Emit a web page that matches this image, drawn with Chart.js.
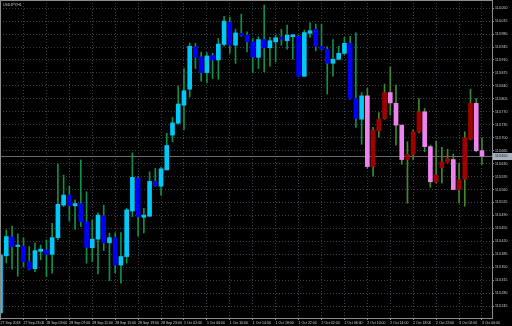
<!DOCTYPE html>
<html>
<head>
<meta charset="utf-8">
<title>USDJPY,H1</title>
<script src="https://cdn.jsdelivr.net/npm/chart.js@4.4.1/dist/chart.umd.min.js"></script>
<style>
  html, body { margin: 0; padding: 0; background: #000; }
  canvas { display: block; }
</style>
</head>
<body>
<canvas id="chart" width="512" height="326"></canvas>
<script>
// H1 bars, oldest first
const opens = [
  113.227, 113.381, 113.432, 113.406, 113.407, 113.365, 113.346, 113.393, 113.397, 113.385,
  113.430, 113.518, 113.545, 113.516, 113.522, 113.473, 113.403, 113.426, 113.489, 113.416,
  113.430, 113.356, 113.379, 113.502, 113.591, 113.485, 113.488, 113.582, 113.569, 113.613,
  113.707, 113.739, 113.788, 113.831, 113.946, 113.918, 113.876, 113.922, 113.910, 113.952,
  114.012, 113.950, 113.982, 113.977, 113.959, 113.917, 113.965, 113.943, 113.959, 113.971,
  113.962, 113.973, 113.974, 113.866, 113.982, 113.993, 113.947, 113.939, 113.901, 113.912,
  113.928, 113.955, 113.806, 113.750, 113.813, 113.622, 113.719, 113.752, 113.822, 113.793,
  113.734, 113.641, 113.655, 113.716, 113.770, 113.676, 113.581, 113.619, 113.633, 113.641,
  113.560, 113.588, 113.696, 113.793, 113.665
];
const highs = [
  113.386, 113.451, 113.461, 113.440, 113.429, 113.406, 113.416, 113.410, 113.424, 113.469,
  113.629, 113.599, 113.570, 113.532, 113.640, 113.554, 113.478, 113.497, 113.518, 113.442,
  113.443, 113.444, 113.509, 113.659, 113.595, 113.509, 113.608, 113.617, 113.621, 113.712,
  113.755, 113.840, 113.887, 113.956, 113.955, 113.931, 113.930, 113.928, 113.968, 114.028,
  114.026, 113.993, 114.034, 113.986, 113.968, 113.973, 114.058, 113.971, 113.977, 113.993,
  114.004, 113.978, 113.977, 113.991, 114.010, 114.007, 114.007, 113.946, 113.965, 113.947,
  113.971, 113.974, 113.983, 113.822, 113.833, 113.728, 113.768, 113.845, 113.891, 113.842,
  113.734, 113.689, 113.721, 113.806, 113.779, 113.680, 113.691, 113.674, 113.669, 113.656,
  113.631, 113.716, 113.831, 113.806, 113.700
];
const lows = [
  113.224, 113.362, 113.345, 113.326, 113.352, 113.343, 113.338, 113.370, 113.325, 113.334,
  113.424, 113.514, 113.475, 113.452, 113.460, 113.361, 113.365, 113.332, 113.395, 113.314,
  113.335, 113.307, 113.361, 113.487, 113.434, 113.443, 113.487, 113.569, 113.545, 113.613,
  113.689, 113.737, 113.721, 113.810, 113.887, 113.853, 113.848, 113.860, 113.858, 113.947,
  113.928, 113.901, 113.974, 113.932, 113.875, 113.887, 113.878, 113.893, 113.905, 113.950,
  113.939, 113.912, 113.865, 113.866, 113.971, 113.935, 113.937, 113.818, 113.866, 113.910,
  113.923, 113.804, 113.728, 113.682, 113.617, 113.596, 113.702, 113.750, 113.761, 113.680,
  113.628, 113.523, 113.640, 113.713, 113.662, 113.566, 113.578, 113.577, 113.632, 113.559,
  113.523, 113.515, 113.694, 113.662, 113.628
];
const closes = [
  113.383, 113.433, 113.406, 113.410, 113.365, 113.345, 113.395, 113.399, 113.385, 113.430,
  113.520, 113.545, 113.516, 113.522, 113.473, 113.404, 113.426, 113.491, 113.416, 113.430,
  113.356, 113.379, 113.505, 113.593, 113.487, 113.491, 113.582, 113.570, 113.616, 113.679,
  113.740, 113.791, 113.827, 113.947, 113.917, 113.876, 113.921, 113.910, 113.953, 114.015,
  113.950, 113.983, 113.977, 113.959, 113.918, 113.965, 113.943, 113.962, 113.970, 113.966,
  113.977, 113.978, 113.866, 113.984, 113.989, 113.947, 113.939, 113.901, 113.912, 113.928,
  113.955, 113.806, 113.752, 113.813, 113.622, 113.721, 113.750, 113.822, 113.794, 113.734,
  113.641, 113.655, 113.716, 113.770, 113.676, 113.581, 113.599, 113.635, 113.644, 113.560,
  113.586, 113.700, 113.793, 113.665, 113.650
];

// one label every 4 bars
const timeLabels = [
  '27 Sep 2018', '27 Sep 23:00', '28 Sep 03:00', '28 Sep 07:00', '28 Sep 11:00', '28 Sep 15:00',
  '28 Sep 19:00', '28 Sep 23:00', '1 Oct 02:00', '1 Oct 06:00', '1 Oct 10:00', '1 Oct 14:00',
  '1 Oct 18:00', '1 Oct 22:00', '2 Oct 02:00', '2 Oct 06:00', '2 Oct 10:00', '2 Oct 14:00',
  '2 Oct 18:00', '2 Oct 22:00', '3 Oct 02:00', '3 Oct 06:00'
];
const priceTicks = [
  114.050, 114.015, 113.980, 113.945, 113.910, 113.875, 113.840, 113.805,
  113.770, 113.735, 113.700, 113.665, 113.630, 113.595, 113.560, 113.525,
  113.490, 113.455, 113.420, 113.385, 113.350, 113.315, 113.280, 113.245
];
const lastPrice = 113.650;
const trendFlip = 64; // candles switch colour scheme from this bar on

const fontFamily = "'Liberation Sans', Arial, sans-serif";
const axisFont = { family: fontFamily, size: 3.5 };
const textColor = '#d0d0d0';
const gridColor = '#3a4049';

function bodyColor(i) {
  const up = closes[i] >= opens[i];
  if (i < trendFlip) return up ? '#00c8f8' : '#0000ff';
  return up ? '#a00000' : '#ee82ee';
}
function wickColor(i) {
  return i < trendFlip ? '#10904a' : '#3f8a2c';
}

// frame, bid line, bid label and symbol caption, MT4 style
const terminalLook = {
  id: 'terminalLook',
  beforeDatasetsDraw(chart) {
    const { ctx, chartArea } = chart;
    const y = Math.round(chart.scales.y.getPixelForValue(lastPrice)) + 0.5;
    ctx.save();
    ctx.strokeStyle = '#6a6a6a';
    ctx.lineWidth = 1;
    ctx.beginPath();
    ctx.moveTo(chartArea.left, y);
    ctx.lineTo(chartArea.right, y);
    ctx.stroke();
    ctx.restore();
  },
  afterDraw(chart) {
    const { ctx, chartArea } = chart;
    ctx.save();
    ctx.strokeStyle = '#8c8c8c';
    ctx.lineWidth = 1;
    ctx.strokeRect(chartArea.left + 0.5, chartArea.top + 0.5,
      chartArea.right - chartArea.left, chartArea.bottom - chartArea.top);

    const y = Math.round(chart.scales.y.getPixelForValue(lastPrice));
    ctx.fillStyle = '#a8b0bc';
    ctx.fillRect(chartArea.right + 1, y - 3, 20, 7);
    ctx.fillStyle = '#101010';
    ctx.font = '3.5px ' + fontFamily;
    ctx.textBaseline = 'middle';
    ctx.fillText(lastPrice.toFixed(3), chartArea.right + 3, y + 0.5);

    ctx.fillStyle = '#c8c8c8';
    ctx.textBaseline = 'top';
    ctx.fillText('USDJPY,H1', chartArea.left + 3, chartArea.top + 3);
    ctx.restore();
  }
};

const idx = opens.map((_, i) => i);

new Chart(document.getElementById('chart'), {
  type: 'bar',
  data: {
    datasets: [
      {
        label: 'body',
        data: idx.map(i => ({ x: i, y: [opens[i], closes[i]] })),
        backgroundColor: ctx => bodyColor(ctx.dataIndex),
        barThickness: 4,
        grouped: false,
        borderWidth: 0,
        order: 0
      },
      {
        label: 'wick',
        data: idx.map(i => ({ x: i, y: [lows[i], highs[i]] })),
        backgroundColor: ctx => wickColor(ctx.dataIndex),
        barThickness: 1,
        grouped: false,
        borderWidth: 0,
        order: 1
      }
    ]
  },
  options: {
    responsive: false,
    devicePixelRatio: 1,
    animation: false,
    layout: { padding: 0, autoPadding: false },
    plugins: {
      legend: { display: false },
      tooltip: { enabled: false }
    },
    scales: {
      x: {
        type: 'linear',
        offset: false,
        bounds: 'data',
        min: -0.1,
        max: 85.75,
        afterBuildTicks: scale => {
          scale.ticks = timeLabels.map((_, k) => ({ value: k * 4 }));
        },
        afterFit: scale => {
          scale.height = 8;
          scale.paddingLeft = 0;
          scale.paddingRight = 0;
        },
        ticks: {
          autoSkip: false,
          maxRotation: 0,
          align: 'start',
          padding: 1,
          color: textColor,
          font: axisFont,
          callback: value => timeLabels[value / 4]
        },
        grid: {
          offset: false,
          color: gridColor,
          tickColor: '#8c8c8c',
          tickLength: 2
        },
        border: { display: false, dash: [1, 2] }
      },
      y: {
        position: 'right',
        min: 113.213,
        max: 114.072,
        afterBuildTicks: scale => {
          scale.ticks = priceTicks.map(v => ({ value: v }));
        },
        afterFit: scale => {
          scale.width = 20;
          scale.paddingTop = 0;
          scale.paddingBottom = 0;
        },
        ticks: {
          padding: 1,
          color: textColor,
          font: axisFont,
          callback: value => value.toFixed(3)
        },
        grid: {
          color: gridColor,
          tickColor: '#8c8c8c',
          tickLength: 2
        },
        border: { display: false, dash: [1, 2] }
      }
    }
  },
  plugins: [terminalLook]
});
</script>
</body>
</html>
